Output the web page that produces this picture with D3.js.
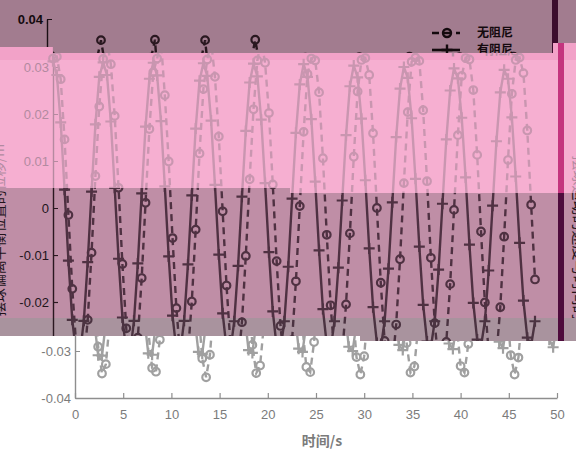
<!DOCTYPE html>
<html>
<head>
<meta charset="utf-8">
<script src="https://cdn.jsdelivr.net/npm/d3@7"></script>
<style>
  body { margin: 0; background: #fff; }
  svg { display: block; }
</style>
</head>
<body>
<svg id="chart" width="576" height="450"></svg>
<script>
// ---- data ----
const sampleStep = 0.4; // seconds between samples
const seriesNames = ["无阻尼", "有阻尼"];
const undamped = [
  0.0318, 0.0322, 0.0274, 0.0146, -0.0015, -0.0172, -0.0291, -0.0348, -0.0328, -0.0238,
  -0.0095, 0.0068, 0.0216, 0.0317, 0.0355, 0.0306, 0.0196, 0.0043, -0.0119, -0.0256,
  -0.0336, -0.0344, -0.0276, -0.0149, 0.0011, 0.0168, 0.0289, 0.0318, 0.0356, 0.0240,
  0.0099, -0.0064, -0.0213, -0.0316, -0.0356, -0.0308, -0.0199, -0.0046, 0.0116, 0.0253,
  0.0316, 0.0355, 0.0279, 0.0152, -0.0007, -0.0165, -0.0287, -0.0347, -0.0331, -0.0243,
  -0.0102, 0.0061, 0.0210, 0.0314, 0.0356, 0.0309, 0.0202, 0.0050, -0.0113, -0.0251,
  -0.0334, -0.0345, -0.0281, -0.0156, 0.0004, 0.0162, 0.0285, 0.0318, 0.0314, 0.0246,
  0.0106, -0.0057, -0.0207, -0.0313, -0.0350, -0.0311, -0.0205, -0.0054, 0.0109, 0.0248,
  0.0315, 0.0319, 0.0283, 0.0159, 0.0000, -0.0159, -0.0283, -0.0346, -0.0333, -0.0248,
  -0.0109, 0.0053, 0.0204, 0.0311, 0.0320, 0.0313, 0.0208, 0.0057, -0.0106, -0.0245,
  -0.0332, -0.0346, -0.0285, -0.0162, -0.0004, 0.0155, 0.0281, 0.0319, 0.0316, 0.0251,
  0.0113, -0.0050, -0.0201, -0.0309, -0.0350, -0.0314, -0.0211, -0.0061, 0.0102, 0.0243,
  0.0315, 0.0320, 0.0287, 0.0165, 0.0007, -0.0152
];
const damped = [
  0.0312, 0.0283, 0.0182, 0.0039, -0.0112, -0.0238, -0.0309, -0.0310, -0.0240, -0.0115,
  0.0035, 0.0178, 0.0279, 0.0310, 0.0283, 0.0184, 0.0043, -0.0108, -0.0233, -0.0305,
  -0.0308, -0.0240, -0.0118, 0.0031, 0.0173, 0.0275, 0.0309, 0.0282, 0.0185, 0.0046,
  -0.0103, -0.0229, -0.0302, -0.0306, -0.0240, -0.0120, 0.0027, 0.0169, 0.0271, 0.0308,
  0.0281, 0.0186, 0.0049, -0.0099, -0.0224, -0.0298, -0.0304, -0.0241, -0.0123, 0.0024,
  0.0164, 0.0267, 0.0307, 0.0280, 0.0188, 0.0053, -0.0094, -0.0220, -0.0295, -0.0302,
  -0.0241, -0.0125, 0.0020, 0.0160, 0.0263, 0.0306, 0.0279, 0.0189, 0.0056, -0.0090,
  -0.0215, -0.0291, -0.0300, -0.0241, -0.0127, 0.0016, 0.0155, 0.0259, 0.0303, 0.0278,
  0.0190, 0.0059, -0.0086, -0.0211, -0.0287, -0.0298, -0.0241, -0.0129, 0.0012, 0.0151,
  0.0254, 0.0300, 0.0277, 0.0191, 0.0062, -0.0082, -0.0206, -0.0284, -0.0296, -0.0241,
  -0.0131, 0.0009, 0.0146, 0.0250, 0.0297, 0.0276, 0.0192, 0.0065, -0.0078, -0.0202,
  -0.0280, -0.0294, -0.0241, -0.0133, 0.0005, 0.0142, 0.0246, 0.0294, 0.0275, 0.0193,
  0.0067, -0.0074, -0.0197, -0.0276, -0.0292, -0.0241
];
const xTicks = [0, 5, 10, 15, 20, 25, 30, 35, 40, 45, 50];
const yTicks = [-0.04, -0.03, -0.02, -0.01, 0, 0.01, 0.02, 0.03, 0.04];
const yTickLabels = ["-0.04", "-0.03", "-0.02", "-0.01", "0", "0.01", "0.02", "0.03", "0.04"];
const xLabel = "时间/s";
const yLabel = "摆球偏离平衡位置的位移/m";
const rightLabel = "摆球运动的速度与时间的关系";

// ---- scales ----
const x = d3.scaleLinear().domain([0, 50]).range([75, 557]);
const y = d3.scaleLinear().domain([-0.04, 0.04]).range([398, 22]);
const times = undamped.map((_, i) => i * sampleStep);

const svg = d3.select("#chart");
const defs = svg.append("defs");
const latin = "'Liberation Sans', Arial, sans-serif";
const cjk = "'Noto Sans CJK SC', 'Noto Sans', sans-serif";

// draws one copy of the plot; texts are kept only where the band shows them
function drawChart(g, s, band) {
  const inBand = sy => sy >= band.y0 - 6 && sy <= band.y1 + 6;

  const ya = g.append("g")
    .attr("transform", `translate(${x(0)},0)`)
    .call(d3.axisLeft(y).tickValues(yTicks)
      .tickFormat((d, i) => yTickLabels[i])
      .tickSize(-5).tickSizeOuter(0).tickPadding(4));
  const xa = g.append("g")
    .attr("transform", `translate(0,${y(-0.04)})`)
    .call(d3.axisBottom(x).tickValues(xTicks)
      .tickFormat(d3.format("d"))
      .tickSize(-5).tickSizeOuter(0).tickPadding(12));
  [ya, xa].forEach(a => {
    a.attr("font-family", latin).attr("font-size", 13).attr("font-weight", s.weight);
    a.select(".domain").attr("stroke", s.axis).attr("stroke-width", 1.4);
    a.selectAll(".tick line").attr("stroke", s.axis).attr("stroke-width", 1.2);
    a.selectAll(".tick text").attr("fill", s.text);
  });
  ya.selectAll(".tick text").filter(d => !inBand(y(d) + band.dy)).remove();
  if (!inBand(418)) xa.selectAll(".tick text").remove();

  if (inBand(440)) {
    g.append("text")
      .attr("x", 322).attr("y", 446)
      .attr("text-anchor", "middle")
      .attr("font-family", cjk).attr("font-size", 14).attr("font-weight", "bold")
      .attr("fill", s.text).text(xLabel);
  }
  if (band.sideLabels) {
    g.append("text")
      .attr("transform", "translate(26,232) rotate(-90)")
      .attr("text-anchor", "middle")
      .attr("font-family", cjk).attr("font-size", 14)
      .attr("fill", s.text).text(yLabel);
    g.append("text")
      .attr("transform", "translate(596,255) rotate(90)")
      .attr("text-anchor", "middle")
      .attr("font-family", cjk).attr("font-size", 15)
      .attr("fill", s.text).text(rightLabel);
  }

  // right edge bar
  g.append("rect").attr("x", 580).attr("y", -10).attr("width", 6).attr("height", 470)
    .attr("fill", s.bar);

  // lines
  const line = d3.line().x((d, i) => x(times[i])).y(d => y(d));
  g.append("path").datum(undamped)
    .attr("d", line).attr("fill", "none")
    .attr("stroke", s.ink).attr("stroke-width", 2.4)
    .attr("stroke-dasharray", "7,5");
  g.append("path").datum(damped)
    .attr("d", line).attr("fill", "none")
    .attr("stroke", s.ink).attr("stroke-width", 2.4);

  // markers
  g.append("g").selectAll("circle").data(undamped).join("circle")
    .attr("cx", (d, i) => x(times[i])).attr("cy", d => y(d)).attr("r", 3.8)
    .attr("fill", "none").attr("stroke", s.ink).attr("stroke-width", 2.2);
  g.append("g").selectAll("path").data(damped).join("path")
    .attr("d", (d, i) => {
      const cx = x(times[i]), cy = y(d);
      return `M${cx - 5.5},${cy}H${cx + 5.5}M${cx},${cy - 5.5}V${cy + 5.5}`;
    })
    .attr("stroke", s.ink).attr("stroke-width", 2.2);

  // legend
  const lg = g.append("g").attr("transform", "translate(460,36)");
  seriesNames.forEach((name, k) => {
    const ry = 36 + k * 17;
    if (!inBand(ry + band.dy)) return;
    const row = lg.append("g").attr("transform", `translate(0,${k * 17})`);
    row.append("line").attr("x1", 0).attr("x2", 28).attr("y1", 0).attr("y2", 0)
      .attr("stroke", s.legend).attr("stroke-width", 2.6)
      .attr("stroke-dasharray", k === 0 ? "7,5" : null);
    if (k === 0) {
      row.append("circle").attr("cx", 15).attr("cy", 0).attr("r", 4)
        .attr("fill", "none").attr("stroke", s.legend).attr("stroke-width", 2.4);
    } else {
      row.append("path").attr("d", "M9.5,0H20.5M15,-5.5V5.5")
        .attr("stroke", s.legend).attr("stroke-width", 2.4);
    }
    row.append("text").attr("x", 45).attr("y", 0).attr("dy", "0.35em")
      .attr("font-family", cjk).attr("font-size", 12).attr("font-weight", "bold")
      .attr("fill", s.legend).text(name);
  });
}

// ---- horizontal bands, each a tinted, offset copy of the plot ----
const bands = [
  {
    pts: [[0, 0], [576, 0], [576, 43], [553, 43], [553, 53], [53, 53], [53, 47], [0, 47]],
    bg: "#a27c8f", dx: -28, dy: -3, sideLabels: false,
    s: { ink: "#2a1820", axis: "#1a0f14", text: "#140a0e", legend: "#140a0e", bar: "#3b0d2d", weight: "bold" }
  },
  {
    pts: [[0, 47], [53, 47], [53, 53], [553, 53], [553, 43], [576, 43], [576, 193], [290, 193], [290, 188], [0, 188]],
    bg: "#f6afd1", strip: "#f2a2c8", dx: -22, dy: -2, sideLabels: true,
    s: { ink: "#c996b0", axis: "#b58aa0", text: "#b28aa0", legend: "#b990a6", bar: "#c4347e", weight: "normal" }
  },
  {
    pts: [[0, 188], [290, 188], [290, 193], [576, 193], [576, 318], [0, 318]],
    bg: "#bf8ea6", dx: -22, dy: -2, sideLabels: true,
    s: { ink: "#4f3142", axis: "#2a1820", text: "#22141b", legend: "#22141b", bar: "#4e0b3c", weight: "normal" }
  },
  {
    pts: [[0, 318], [576, 318], [576, 341], [360, 341], [360, 336], [0, 336]],
    bg: "#a9939e", dx: -22, dy: -2, sideLabels: false,
    s: { ink: "#4b3341", axis: "#2a1820", text: "#22141b", legend: "#22141b", bar: "#4e0b3c", weight: "normal" }
  },
  {
    pts: [[0, 336], [360, 336], [360, 341], [576, 341], [576, 450], [0, 450]],
    bg: "#ffffff", dx: 0, dy: 0, sideLabels: false,
    s: { ink: "#a0a0a0", axis: "#8e8e8e", text: "#7b7b7b", legend: "#7b7b7b", bar: "#999999", weight: "normal" }
  }
];

bands.forEach((b, k) => {
  const id = `band-${k}`;
  defs.append("clipPath").attr("id", id)
    .append("polygon").attr("points", b.pts.map(p => p.join(",")).join(" "));
  const ys = b.pts.map(p => p[1]);
  const band = { y0: d3.min(ys), y1: d3.max(ys), dy: b.dy, sideLabels: b.sideLabels };
  const bg = svg.append("g").attr("clip-path", `url(#${id})`);
  bg.append("rect").attr("width", 576).attr("height", 450).attr("fill", b.bg);
  if (b.strip) {
    bg.append("rect").attr("x", 0).attr("y", 40).attr("width", 576).attr("height", 20).attr("fill", b.strip);
  }
  const inner = bg.append("g").attr("transform", `translate(${b.dx},${b.dy})`);
  drawChart(inner, b.s, band);
});
</script>
</body>
</html>
